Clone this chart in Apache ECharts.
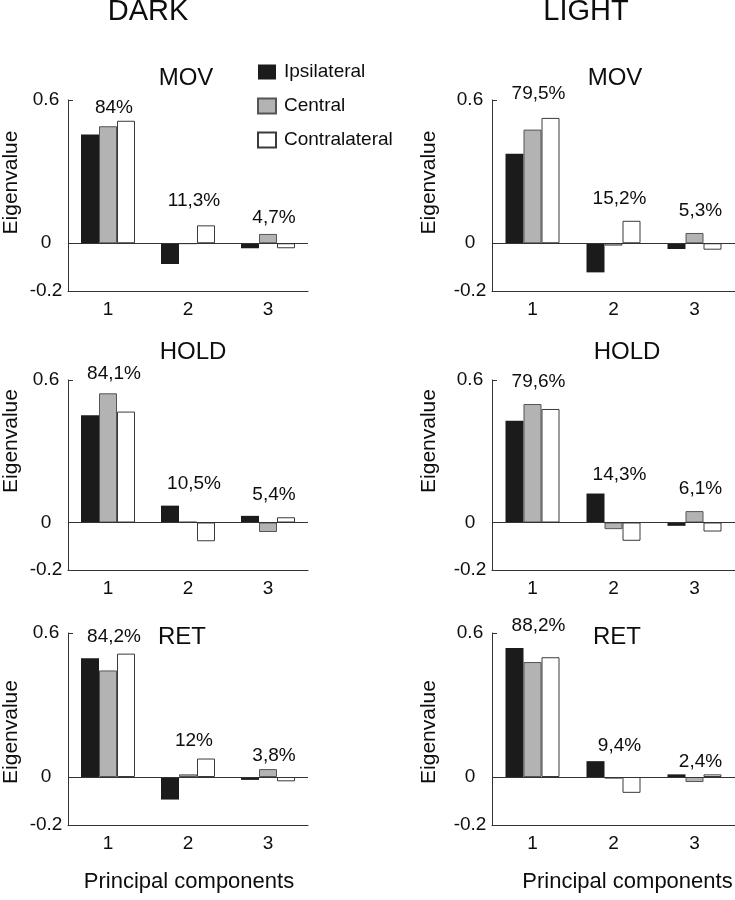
<!DOCTYPE html>
<html>
<head>
<meta charset="utf-8">
<script src="https://cdn.jsdelivr.net/npm/echarts@6/dist/echarts.min.js"></script>
<style>
  html, body { margin: 0; padding: 0; background: #fff; }
  #chart { width: 735px; height: 900px; }
</style>
</head>
<body>
<div id="chart"></div>
<script>
const categories = ['1', '2', '3'];
const seriesNames = ['Ipsilateral', 'Central', 'Contralateral'];
const yTickValues = [-0.2, 0, 0.6];

// DARK
const darkMovIpsi = [0.455, -0.087, -0.021];
const darkMovCentral = [0.49, -0.003, 0.039];
const darkMovContra = [0.513, 0.075, -0.021];
const darkMovPct = ['84%', '11,3%', '4,7%'];
const darkMovPctY = [0.568, 0.179, 0.108];

const darkHoldIpsi = [0.452, 0.071, 0.028];
const darkHoldCentral = [0.544, 0.003, -0.04];
const darkHoldContra = [0.467, -0.079, 0.022];
const darkHoldPct = ['84,1%', '10,5%', '5,4%'];
const darkHoldPctY = [0.625, 0.165, 0.116];

const darkRetIpsi = [0.495, -0.094, -0.012];
const darkRetCentral = [0.444, 0.011, 0.033];
const darkRetContra = [0.514, 0.077, -0.018];
const darkRetPct = ['84,2%', '12%', '3,8%'];
const darkRetPctY = [0.583, 0.151, 0.089];

// LIGHT
const lightMovIpsi = [0.375, -0.122, -0.024];
const lightMovCentral = [0.476, -0.01, 0.043];
const lightMovContra = [0.525, 0.094, -0.027];
const lightMovPct = ['79,5%', '15,2%', '5,3%'];
const lightMovPctY = [0.625, 0.187, 0.135];

const lightHoldIpsi = [0.428, 0.122, -0.014];
const lightHoldCentral = [0.499, -0.028, 0.048];
const lightHoldContra = [0.478, -0.077, -0.038];
const lightHoldPct = ['79,6%', '14,3%', '6,1%'];
const lightHoldPctY = [0.593, 0.203, 0.142];

const lightRetIpsi = [0.538, 0.066, 0.011];
const lightRetCentral = [0.479, -0.007, -0.021];
const lightRetContra = [0.499, -0.066, 0.011];
const lightRetPct = ['88,2%', '9,4%', '2,4%'];
const lightRetPctY = [0.63, 0.131, 0.065];

const panels = [
  { title: 'MOV',  col: 0, row: 0, bars: [darkMovIpsi, darkMovCentral, darkMovContra], pct: darkMovPct, pctY: darkMovPctY },
  { title: 'MOV',  col: 1, row: 0, bars: [lightMovIpsi, lightMovCentral, lightMovContra], pct: lightMovPct, pctY: lightMovPctY },
  { title: 'HOLD', col: 0, row: 1, bars: [darkHoldIpsi, darkHoldCentral, darkHoldContra], pct: darkHoldPct, pctY: darkHoldPctY },
  { title: 'HOLD', col: 1, row: 1, bars: [lightHoldIpsi, lightHoldCentral, lightHoldContra], pct: lightHoldPct, pctY: lightHoldPctY },
  { title: 'RET',  col: 0, row: 2, bars: [darkRetIpsi, darkRetCentral, darkRetContra], pct: darkRetPct, pctY: darkRetPctY },
  { title: 'RET',  col: 1, row: 2, bars: [lightRetIpsi, lightRetCentral, lightRetContra], pct: lightRetPct, pctY: lightRetPctY }
];

// layout
const colLeft = [64, 492];
const colWidth = [244, 243];
const rowTop = [100, 380, 633];
const rowHeight = [191, 190, 192];
const nameGapY = [46, 52];
const nameShiftY = [13, 34, -3]; // move "Eigenvalue" up (px)
const titlePos = [
  [[186, 78], [615, 78]],
  [[193, 352], [627, 352]],
  [[182, 637], [617, 637]]
];

const FONT = "'Liberation Sans', Arial, Helvetica, sans-serif";
const INK = '#0d0d0d';
const AXIS = '#333';
const barStyles = [
  { color: '#1b1b1b', borderColor: '#1b1b1b', borderWidth: 0 },
  { color: '#b3b3b3', borderColor: '#555', borderWidth: 1 },
  { color: '#ffffff', borderColor: '#3a3a3a', borderWidth: 1 }
];

const grid = [], xAxis = [], yAxis = [], series = [], graphic = [];

panels.forEach((p, i) => {
  grid.push({ left: colLeft[p.col], width: colWidth[p.col], top: rowTop[p.row], height: rowHeight[p.row] });

  const xa = {
    type: 'category', gridIndex: i, data: categories,
    axisLine: { onZero: false, lineStyle: { color: AXIS, width: 1 } },
    axisTick: { inside: true, alignWithLabel: true, length: 5, lineStyle: { color: AXIS } },
    axisLabel: { fontSize: 19, color: INK, margin: 9, fontFamily: FONT },
    splitLine: { show: false }
  };
  if (p.row === 2) {
    xa.name = 'Principal components';
    xa.nameLocation = 'middle';
    xa.nameGap = 46;
    xa.nameTextStyle = { fontSize: 22, color: INK, fontFamily: FONT,
      padding: p.col === 1 ? [0, 0, 0, 28] : [0, 0, 0, 2] };
  }
  xAxis.push(xa);

  const shift = nameShiftY[p.row];
  yAxis.push({
    type: 'value', gridIndex: i, min: -0.2, max: 0.6, interval: 0.2,
    name: 'Eigenvalue', nameLocation: 'middle', nameGap: nameGapY[p.col], nameRotate: 90,
    nameTextStyle: { fontSize: 21, color: INK, fontFamily: FONT,
      padding: shift >= 0 ? [0, 0, 0, 2 * shift] : [0, -2 * shift, 0, 0] },
    axisLine: { show: true, lineStyle: { color: AXIS, width: 1 } },
    axisTick: { show: true, inside: true, length: 5, customValues: [0.6], lineStyle: { color: AXIS } },
    axisLabel: {
      customValues: yTickValues, fontSize: 19, color: INK, fontFamily: FONT,
      align: 'center', margin: 22,
      formatter: v => (Math.abs(v) < 1e-9 ? '0' : v.toFixed(1))
    },
    splitLine: { show: false }
  });

  p.bars.forEach((vals, k) => {
    const s = {
      type: 'bar', name: seriesNames[k], xAxisIndex: i, yAxisIndex: i,
      data: vals, barWidth: 18, barGap: '0%', itemStyle: barStyles[k]
    };
    if (k === 0) {
      s.markLine = {
        silent: true, symbol: 'none', label: { show: false },
        lineStyle: { color: AXIS, width: 1, type: 'solid' },
        data: [{ yAxis: 0 }]
      };
    }
    series.push(s);
  });

  series.push({
    type: 'scatter', xAxisIndex: i, yAxisIndex: i, symbolSize: 0, clip: false, silent: true,
    itemStyle: { opacity: 1 },
    data: p.pctY.map((y, c) => ({ value: [c, y], name: p.pct[c] })),
    label: {
      show: true, position: 'inside', formatter: d => d.name, opacity: 1,
      fontSize: 19, color: INK, fontFamily: FONT, offset: [6, 0]
    },
    z: 5
  });

  const tp = titlePos[p.row][p.col];
  graphic.push({ type: 'text', x: tp[0], y: tp[1],
    style: { text: p.title, fontSize: 24, fontFamily: FONT, fill: INK, align: 'center', verticalAlign: 'middle' } });
});

graphic.push({ type: 'text', x: 148, y: 12,
  style: { text: 'DARK', fontSize: 29, fontFamily: FONT, fill: INK, align: 'center', verticalAlign: 'middle' } });
graphic.push({ type: 'text', x: 586, y: 12,
  style: { text: 'LIGHT', fontSize: 29, fontFamily: FONT, fill: INK, align: 'center', verticalAlign: 'middle' } });

const chart = echarts.init(document.getElementById('chart'), null, { renderer: 'canvas' });
chart.setOption({
  animation: false,
  backgroundColor: '#fff',
  textStyle: { fontFamily: FONT },
  legend: {
    data: seriesNames, orient: 'vertical', left: 257, top: 62, padding: 0,
    icon: 'rect', itemWidth: 18, itemHeight: 15, itemGap: 14, selectedMode: false,
    textStyle: { fontSize: 19, color: INK, fontFamily: FONT, lineHeight: 20, padding: [0, 0, 0, 3] }
  },
  grid, xAxis, yAxis, series, graphic
});
</script>
</body>
</html>
